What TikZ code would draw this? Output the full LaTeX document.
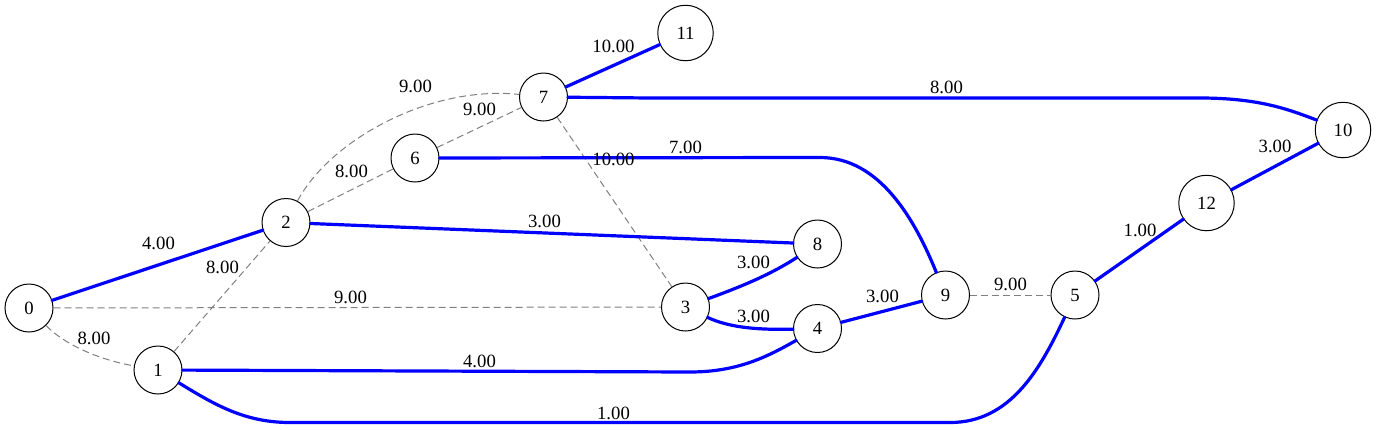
\documentclass[tikz,border=0pt]{standalone}
\usepackage{fontspec}
\setmainfont{Liberation Serif}
\def\weightFont{\fontsize{18.7}{22}\selectfont}

\begin{document}
\begin{tikzpicture}[x=1pt, y=-1pt, line cap=round,
		vertex/.style={circle, draw, line width=1pt, fill=white, minimum size=48pt, inner sep=0pt, font=\weightFont},
		widevertex/.style={vertex, minimum size=55.5pt},
		treeedge/.style={draw=blue, line width=3.2pt},
		otheredge/.style={draw=gray, line width=1pt, line cap=butt, dash pattern=on 7pt off 4pt},
		weight/.style={font=\weightFont, inner sep=0pt}]
		\useasboundingbox (0,0) rectangle (1376,429);
		
		% vertices
		\node[vertex] (v0) at (29,308) {0};
		\node[vertex] (v1) at (158,370) {1};
		\node[vertex] (v2) at (286,222.5) {2};
		\node[vertex] (v3) at (685.5,307) {3};
		\node[vertex] (v4) at (817.5,328.5) {4};
		\node[vertex] (v5) at (1075,295) {5};
		\node[vertex] (v6) at (415,158) {6};
		\node[vertex] (v7) at (543.5,97) {7};
		\node[vertex] (v8) at (817.5,244) {8};
		\node[vertex] (v9) at (945.5,295) {9};
		\node[widevertex] (v10) at (1343,130) {10};
		\node[widevertex] (v11) at (685.5,33) {11};
		\node[widevertex] (v12) at (1206.5,203) {12};
		
		% edges not in the tree
		\draw[otheredge] (v0) .. controls (65,345) and (100,360) .. (v1);
		\draw[otheredge] (v0) -- (v3);
		\draw[otheredge] (v1) -- (v2);
		\draw[otheredge] (v2) .. controls (330,140) and (430,85) .. (v7);
		\draw[otheredge] (v2) -- (v6);
		\draw[otheredge] (v6) -- (v7);
		\draw[otheredge] (v7) -- (v3);
		\draw[otheredge] (v9) -- (v5);
		
		% tree edges
		\draw[treeedge] (v0) -- (v2);
		\draw[treeedge] (v1) -- (690,372) .. controls (740,372) and (770,355) .. (v4);
		\draw[treeedge] (v1) .. controls (215,405) and (245,422.5) .. (290,422.5) -- (950,422.5) .. controls (1010,422.5) and (1040,370) .. (v5);
		\draw[treeedge] (v2) -- (v8);
		\draw[treeedge] (v6) -- (820,157.5) .. controls (880,157.5) and (915,220) .. (v9);
		\draw[treeedge] (v7) -- (650,98) -- (1200,98) .. controls (1260,98) and (1290,110) .. (v10);
		\draw[treeedge] (v7) -- (v11);
		\draw[treeedge] (v3) .. controls (740,287) and (770,275) .. (v8);
		\draw[treeedge] (v3) .. controls (730,328) and (760,330) .. (v4);
		\draw[treeedge] (v4) -- (v9);
		\draw[treeedge] (v5) -- (v12);
		\draw[treeedge] (v12) -- (v10);
		
		% weights
		\node[weight] (w01) at (94,338.5) {8.00};
		\node[weight] (w02) at (158.5,243.5) {4.00};
		\node[weight] (w03) at (350.5,297.5) {9.00};
		\node[weight] (w12) at (222.5,267.5) {8.00};
		\node[weight] (w14) at (479.5,361.5) {4.00};
		\node[weight] (w15) at (613.5,413.5) {1.00};
		\node[weight] (w27) at (415.5,86) {9.00};
		\node[weight] (w26) at (351.5,171) {8.00};
		\node[weight] (w28) at (544.5,221) {3.00};
		\node[weight] (w67) at (479.5,109.5) {9.00};
		\node[weight] (w69) at (685.5,147.5) {7.00};
		\node[weight] (w73) at (613.5,159.5) {10.00};
		\node[weight] (w711) at (613.5,46.5) {10.00};
		\node[weight] (w710) at (946.5,87.5) {8.00};
		\node[weight] (w38) at (753.5,262.5) {3.00};
		\node[weight] (w34) at (753.5,316) {3.00};
		\node[weight] (w49) at (882.5,296.5) {3.00};
		\node[weight] (w95) at (1010.5,284.5) {9.00};
		\node[weight] (w512) at (1140,230) {1.00};
		\node[weight] (w1210) at (1275,146.5) {3.00};
\end{tikzpicture}
\end{document}
